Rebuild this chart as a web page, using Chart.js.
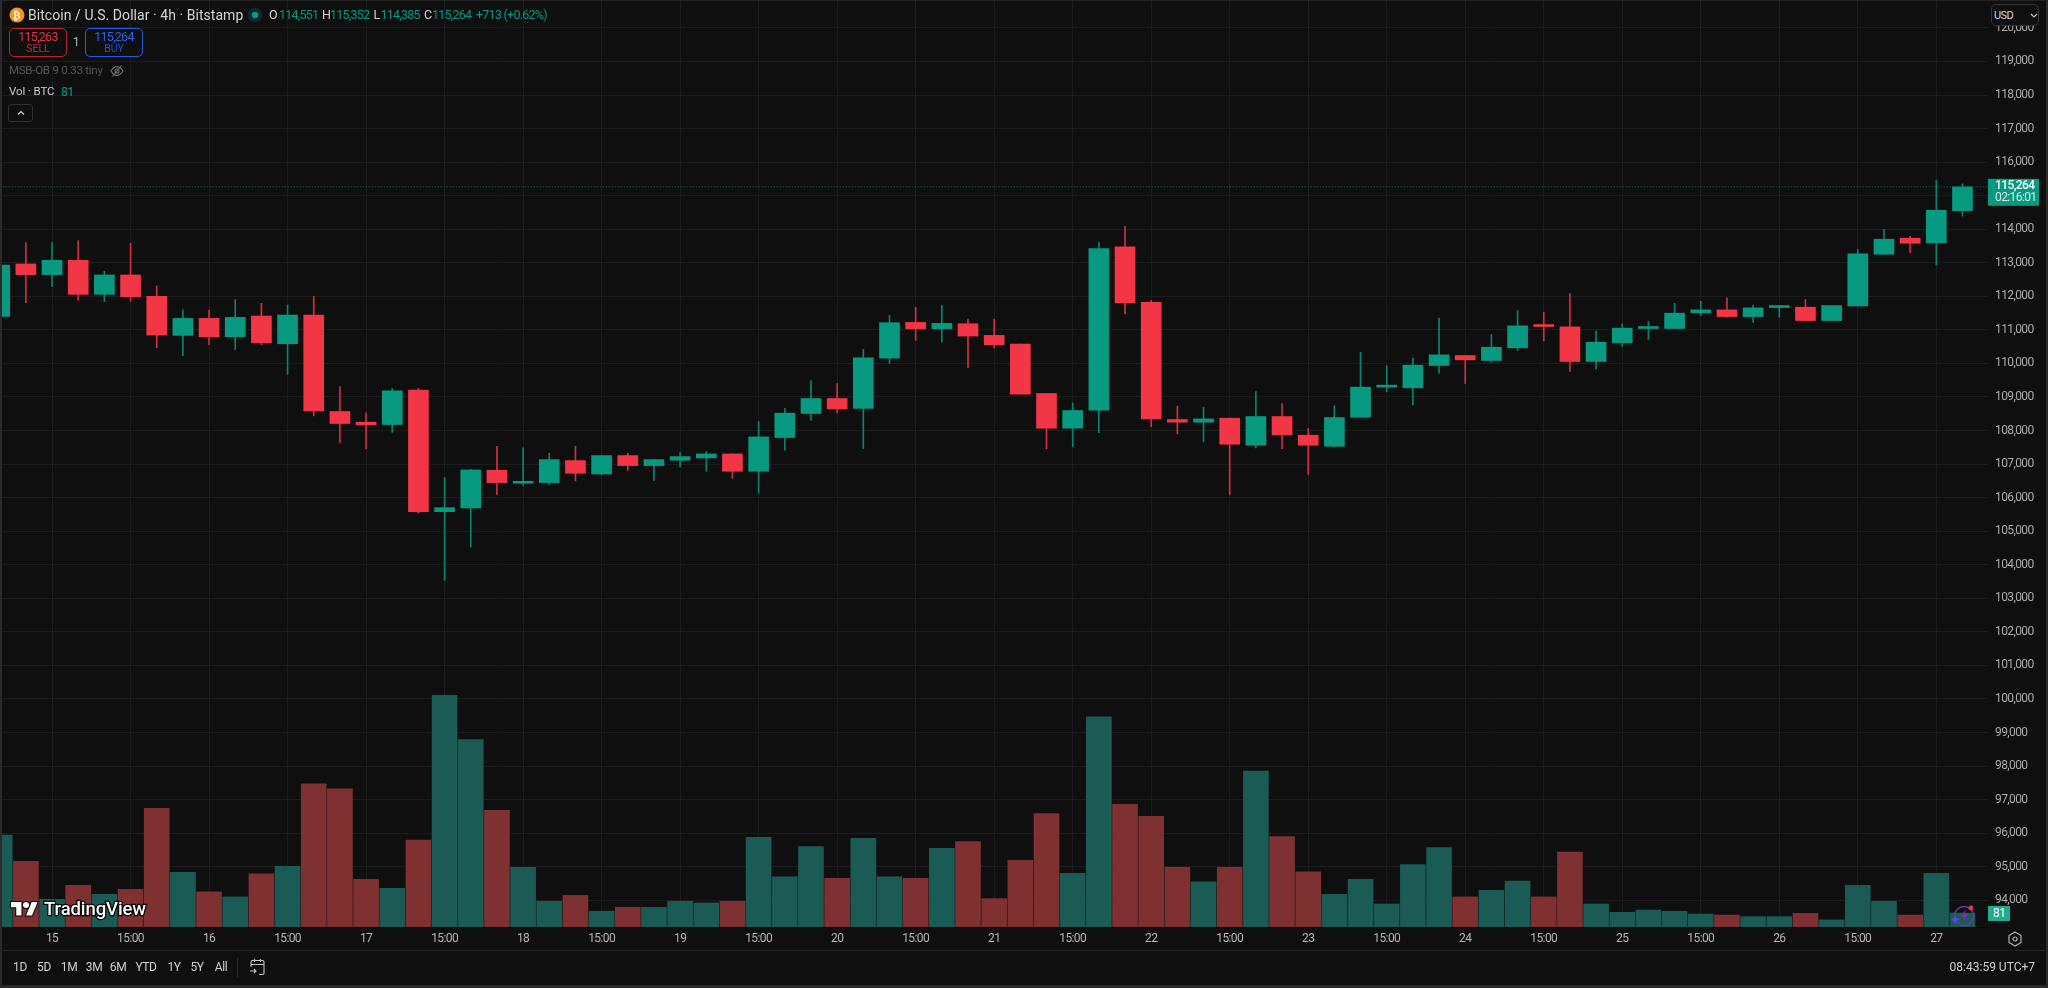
<!DOCTYPE html>
<html>
<head>
<meta charset="utf-8">
<title>BTCUSD 4h</title>
<script src="https://cdn.jsdelivr.net/npm/chart.js@4/dist/chart.umd.min.js"></script>
<style>
  html, body { margin: 0; padding: 0; background: #0f0f0f; width: 2048px; height: 988px; overflow: hidden; }
  #stage { position: relative; width: 2048px; height: 988px; font-family: Roboto, sans-serif; }
  canvas { position: absolute; left: 0; top: 0; }
  .t { position: absolute; white-space: nowrap; transform: translateY(-50%); line-height: 1; }
  .c { transform: translate(-50%, -50%); }
  .n { font-size: 12.5px; letter-spacing: -.75px; }
  .box { position: absolute; box-sizing: border-box; border-radius: 5px; background: #0f0f0f; }
  .rule { position: absolute; background: #2a2a2a; }
  svg { position: absolute; overflow: visible; }
  .up { color: #089981; }
</style>
</head>
<body>
<div id="stage">
  <canvas id="chart" width="2048" height="988"></canvas>

  <!-- window frame and separators -->
  <div class="rule" style="left:0;top:0;width:2048px;height:1px;background:#222"></div>
  <div class="rule" style="left:0;top:0;width:2px;height:988px"></div>
  <div class="rule" style="left:2046px;top:0;width:2px;height:988px"></div>
  <div class="rule" style="left:0;top:985px;width:2048px;height:3px"></div>
  <div class="rule" style="left:2px;top:950px;width:2044px;height:1px;background:#242424"></div>

  <!-- symbol header -->
  <svg style="left:9px;top:7px" width="16" height="16" viewBox="0 0 16 16">
    <circle cx="8" cy="8" r="7.5" fill="#f7931a"/>
    <text x="8" y="11.5" font-size="11" font-weight="700" fill="#fff" text-anchor="middle" font-family="DejaVu Sans">₿</text>
  </svg>
  <div class="t" style="left:28px;top:15px;font-size:14px;color:#d4d4d4;letter-spacing:.05px">Bitcoin / U.S. Dollar · 4h · Bitstamp</div>
  <svg style="left:247px;top:7px" width="16" height="16" viewBox="0 0 16 16">
    <circle cx="8" cy="8" r="7.5" fill="#0d2a25"/><circle cx="8" cy="8" r="3.2" fill="#089981"/>
  </svg>
  <div id="ohlc"></div>

  <!-- sell and buy buttons -->
  <div class="box" style="left:9px;top:28px;width:58px;height:29px;border:1px solid #b8232f"></div>
  <div class="t c n" style="left:38px;top:37px;color:#e8323f">115,263</div>
  <div class="t c" style="left:38px;top:49px;font-size:10.5px;color:#c22a36">SELL</div>
  <div class="t c n" style="left:76px;top:42px;color:#b5b5b5">1</div>
  <div class="box" style="left:85px;top:28px;width:58px;height:29px;border:1px solid #2a5ae0"></div>
  <div class="t c n" style="left:114px;top:37px;color:#2f62ea">115,264</div>
  <div class="t c" style="left:114px;top:49px;font-size:10.5px;color:#2452cc">BUY</div>

  <!-- indicator legend -->
  <div class="t" style="left:9px;top:71px;font-size:11.5px;color:#565656;letter-spacing:-.25px">MSB-OB 9 0.33 tiny</div>
  <svg style="left:110px;top:64px" width="14" height="14" viewBox="0 0 14 14" fill="none" stroke="#6e6e6e" stroke-width="1.1">
    <path d="M1 7c2-3.4 4-4.4 6-4.4S11 3.600 13 7c-2 3.400-4 4.400-6 4.400S3 10.400 1 7z"/><circle cx="7" cy="7" r="2"/><path d="M2.500 12.500l9-11"/>
  </svg>
  <div class="t" style="left:9px;top:92px;font-size:11.5px;color:#c8c8c8;letter-spacing:-.1px">Vol · BTC</div>
  <div class="t up n" style="left:61px;top:92px">81</div>
  <div class="box" style="left:8px;top:104px;width:25px;height:18px;border:1px solid #303030;border-radius:3px"></div>
  <svg style="left:17px;top:110px" width="8" height="6" viewBox="0 0 8 6" fill="none" stroke="#cfcfcf" stroke-width="1.200"><path d="M1 4.500l3-3 3 3"/></svg>

  <!-- currency selector -->
  <div class="box" style="left:1991px;top:4px;width:48px;height:22px;border:1px solid #343434"></div>
  <div class="t" style="left:1994px;top:15px;font-size:11px;letter-spacing:-.6px;color:#c9d4e6">USD</div>
  <svg style="left:2030px;top:13px" width="8" height="5" viewBox="0 0 8 5" fill="none" stroke="#bdbdbd" stroke-width="1.200"><path d="M1 1l3 3 3-3"/></svg>

  <!-- TradingView mark -->
  <svg style="left:11px;top:899px" width="27" height="21" viewBox="0 0 36 28">
    <g fill="#fff" stroke="#000" stroke-width="2.500" paint-order="stroke">
      <path d="M14 22H7V11H0V4h14v18zM28 22h-8l7.500-18h8L28 22z"/><circle cx="20" cy="8" r="4"/>
    </g>
  </svg>
  <div class="t" style="left:44px;top:909px;font-size:18.5px;font-weight:500;color:#fff;letter-spacing:-.1px;-webkit-text-stroke:2.5px #000;paint-order:stroke fill">TradingView</div>

  <!-- alert badge on the last bar -->
  <svg style="left:1950px;top:902px" width="26" height="26" viewBox="0 0 26 26" fill="none">
    <circle cx="14" cy="14" r="9.500" stroke="#7b2fa8" stroke-width="1.600"/>
    <path d="M16 7l-5 8h3.500l-2 5 5.500-8h-3.500z" fill="#7b2fa8"/>
    <path d="M5 13l1.400 3.100 3.100 1.400-3.100 1.400L5 22l-1.400-3.100-3.100-1.400 3.100-1.400z" fill="#5a45f0"/>
    <circle cx="21" cy="6" r="2.400" fill="#f23645"/>
  </svg>

  <!-- settings gear on the time axis -->
  <svg style="left:2008px;top:931px" width="14" height="16" viewBox="0 0 14 16" fill="none" stroke="#b0b0b0" stroke-width="1.200">
    <path d="M7 1l6 3.500v7L7 15 1 11.500v-7z"/><circle cx="7" cy="8" r="2"/>
  </svg>

  <!-- bottom toolbar -->
  <div id="ranges"></div>
  <div class="rule" style="left:237px;top:958px;width:1px;height:19px"></div>
  <svg style="left:249px;top:958px" width="17" height="18" viewBox="0 0 17 18" fill="none" stroke="#c4c4c4" stroke-width="1.100">
    <path d="M2 9V4a1.500 1.500 0 0 1 1.500-1.500h10A1.500 1.500 0 0 1 15 4v11a1.500 1.500 0 0 1-1.500 1.500H10M2 6.500h13M5.500 1v3M11.500 1v3M1 13h6M5 11l2 2-2 2"/>
  </svg>
  <div class="t" style="right:13px;top:967px;font-size:12px;color:#cfcfcf">08:43:59 UTC+7</div>
</div>

<script>
// Bars run from 14 Jul to 27 Jul on the 4 hour timeframe; index 0 is the first bar in view.
const opens = [
  111403,112965,112647,113075,112060,112637,112000,110836,111343,110796,
  111413,110587,111443,108567,108249,108179,109204,105582,105692,106816,
  106428,106448,107105,106707,107254,106955,107115,107184,107304,106786,
  107791,108508,108955,108657,110159,111224,111035,111184,110836,110577,
  109105,108070,108607,113473,111821,108328,108249,108368,107562,108418,
  107861,107532,108398,109293,109273,109939,110237,110088,110465,111120,
  111090,110058,110614,111041,111041,111508,111597,111398,111666,111676,
  111279,111716,113255,113732,113593,114551
];
const highs = [
  112950,113602,113602,113652,112746,113582,112308,111592,111592,111901,
  111791,111741,112000,109314,108518,109254,109254,106597,106836,107532,
  107483,107323,107532,107254,107323,107135,107343,107373,107304,108269,
  108657,109493,109403,110418,111433,111672,111731,111323,111323,110577,
  109105,108826,113602,114090,111881,108726,108696,108368,109164,108806,
  108060,108746,110336,109929,110157,111349,110237,110862,111577,111527,
  112083,110971,111180,111249,111796,111855,111954,111736,111686,111905,
  111726,113404,114000,113791,115460,115352
];
const lows = [
  111390,111811,112289,111881,111841,111861,110468,110229,110557,110408,
  110557,109672,108438,107632,107463,107950,105543,103533,104528,106090,
  106368,106378,106498,106677,106806,106517,106916,106786,106577,106139,
  107413,108299,108527,107463,110000,110687,110637,109871,110458,109085,
  107453,107513,107940,111473,108119,107901,107662,106090,107483,107463,
  106697,107503,108390,109154,108767,109710,109402,110028,110385,110673,
  109760,109829,110505,110713,111041,111418,111379,111220,111379,111279,
  111279,111716,113255,113305,112937,114385
];
const closes = [
  112935,112647,113075,112060,112637,111990,110846,111343,110796,111373,
  110617,111443,108587,108209,108170,109184,105582,105702,106826,106448,
  106478,107135,106727,107254,106955,107135,107224,107304,106786,107811,
  108517,108955,108647,110169,111214,111035,111194,110816,110557,109085,
  108070,108597,113423,111801,108348,108249,108348,107592,108418,107871,
  107562,108388,109293,109333,109948,110256,110107,110485,111120,111100,
  110058,110634,111051,111071,111498,111597,111398,111657,111686,111279,
  111726,113265,113702,113583,114566,115264
];
const volumes = [
  532,380,160,241,189,218,687,316,203,174,
  307,351,828,799,276,224,503,1341,1084,675,
  345,149,183,91,114,114,149,139,149,519,
  291,465,282,513,291,282,455,494,164,386,
  656,311,1217,710,640,345,262,345,903,523,
  320,189,276,133,361,459,174,212,266,174,
  434,133,85,98,91,75,69,60,60,79,
  41,241,149,69,311,81
];
// Time axis labels and the bars they sit under.
const tickIndexes = [2,5,8,11,14,17,20,23,26,29,32,35,38,41,44,47,50,53,56,59,62,65,68,71,74];
const tickLabels = ["15","15:00","16","15:00","17","15:00","18","15:00","19","15:00","20","15:00","21","15:00","22","15:00","23","15:00","24","15:00","25","15:00","26","15:00","27"];
// Price axis levels.
const priceTicks = [94000,95000,96000,97000,98000,99000,100000,101000,102000,103000,104000,105000,106000,107000,108000,109000,110000,111000,112000,113000,114000,115000,116000,117000,118000,119000,120000];
const rangeLabels = ["1D","5D","1M","3M","6M","YTD","1Y","5Y","All"];
const rangeCentres = [20,44,69,94,118,146,174,197,221];
const countdown = "02:16:01";

const UP = "#089981", DOWN = "#f23645";
const UP_WICK = "#0a8470", DOWN_WICK = "#cf3140";
const UP_VOL = "#1a5c55", DOWN_VOL = "#7f3030";
const GRID = "#1c1c1c";
const AXIS_FONT = "Roboto, sans-serif";

const fmt = v => v.toLocaleString("en-US");
const last = closes.length - 1;
const isUp = i => closes[i] >= opens[i];
const xs = opens.map((_, i) => i);

// Legend line with the last bar's open, high, low and close.
const legendParts = [
  ["O", 269, "#d4d4d4"], [fmt(opens[last]), 279, UP],
  ["H", 322, "#d4d4d4"], [fmt(highs[last]), 330, UP],
  ["L", 373.5, "#d4d4d4"], [fmt(lows[last]), 380.5, UP],
  ["C", 424, "#d4d4d4"], [fmt(closes[last]), 432, UP],
  ["+713 (+0.62%)", 476, UP]
];
document.getElementById("ohlc").innerHTML = legendParts.map(([s, left, col]) =>
  `<div class="t n" style="left:${left}px;top:15px;color:${col}">${s}</div>`).join("");

document.getElementById("ranges").innerHTML = rangeLabels.map((r, i) =>
  `<div class="t c" style="left:${rangeCentres[i]}px;top:967px;font-size:12px;letter-spacing:-.4px;color:#cfcfcf">${r}</div>`).join("");

// Coloured value tags on the price axis, placed through the axis scales.
const axisTags = {
  id: "axisTags",
  beforeDraw(chart) { chart.ctx.letterSpacing = "-0.6px"; },
  afterDraw(chart) {
    const { ctx, scales } = chart;
    const left = chart.chartArea.right;
    ctx.save();
    ctx.textBaseline = "middle";
    ctx.textAlign = "left";

    const py = scales.y.getPixelForValue(closes[last]);
    ctx.fillStyle = UP;
    ctx.fillRect(left, py - 8, 51, 27);
    ctx.fillStyle = "#ffffff";
    ctx.font = "500 12px " + AXIS_FONT;
    ctx.fillText(fmt(closes[last]), left + 7, py - 0.5);
    ctx.fillStyle = "#d8f0ea";
    ctx.font = "12px " + AXIS_FONT;
    ctx.fillText(countdown, left + 7, py + 11.5);

    const vy = scales.v.getPixelForValue(volumes[last]);
    ctx.fillStyle = "#22ab94";
    ctx.fillRect(left, vy - 7, 22, 15);
    ctx.fillStyle = "#ffffff";
    ctx.font = "12px " + AXIS_FONT;
    ctx.fillText(String(volumes[last]), left + 5, vy + 0.5);
    ctx.restore();
  }
};

new Chart(document.getElementById("chart"), {
  type: "bar",
  plugins: [axisTags],
  data: {
    datasets: [
      {
        label: "Last price", type: "line", order: 0, yAxisID: "y",
        data: [{ x: 0, y: closes[last] }, { x: 76, y: closes[last] }],
        borderColor: "#0b7a68", borderWidth: 1, borderDash: [1, 2], pointRadius: 0
      },
      {
        label: "Body", order: 1, yAxisID: "y", grouped: false, barThickness: 20, minBarLength: 2,
        data: xs.map(i => ({ x: i, y: [opens[i], closes[i]] })),
        backgroundColor: xs.map(i => isUp(i) ? UP : DOWN)
      },
      {
        label: "Wick", order: 2, yAxisID: "y", grouped: false, barThickness: 1,
        data: xs.map(i => ({ x: i, y: [lows[i], highs[i]] })),
        backgroundColor: xs.map(i => isUp(i) ? UP_WICK : DOWN_WICK)
      },
      {
        label: "Volume", order: 3, yAxisID: "v", grouped: false, barThickness: 25,
        data: xs.map(i => ({ x: i, y: volumes[i] })),
        backgroundColor: xs.map(i => isUp(i) ? UP_VOL : DOWN_VOL)
      }
    ]
  },
  options: {
    responsive: false,
    animation: false,
    events: [],
    layout: { padding: { left: 2, top: 1, right: 0, bottom: 38 } },
    plugins: { legend: { display: false }, tooltip: { enabled: false } },
    scales: {
      x: {
        type: "linear",
        offset: false,
        min: 0.088, max: 75.975,
        afterBuildTicks(scale) { scale.ticks = tickIndexes.map(v => ({ value: v })); },
        afterFit(scale) { scale.height = 23; scale.paddingLeft = 0; scale.paddingRight = 0; },
        grid: { color: GRID, drawTicks: false, offset: false },
        border: { color: "#060606" },
        ticks: {
          autoSkip: false, maxRotation: 0, padding: 5, color: "#b4b4b4",
          font: { family: AXIS_FONT, size: 12 },
          callback: v => tickLabels[tickIndexes.indexOf(v)]
        }
      },
      y: {
        position: "right",
        min: 93203, max: 120803,
        afterBuildTicks(scale) { scale.ticks = priceTicks.map(v => ({ value: v })); },
        afterFit(scale) { scale.width = 60; scale.paddingTop = 0; scale.paddingBottom = 0; },
        grid: { color: GRID, drawTicks: false },
        border: { display: false },
        ticks: {
          autoSkip: false, padding: 7, color: "#aaaaaa",
          font: { family: AXIS_FONT, size: 12 },
          callback: v => fmt(v)
        }
      },
      v: { display: false, position: "right", min: 0, max: 5359, grid: { display: false } }
    }
  }
});
</script>
</body>
</html>
